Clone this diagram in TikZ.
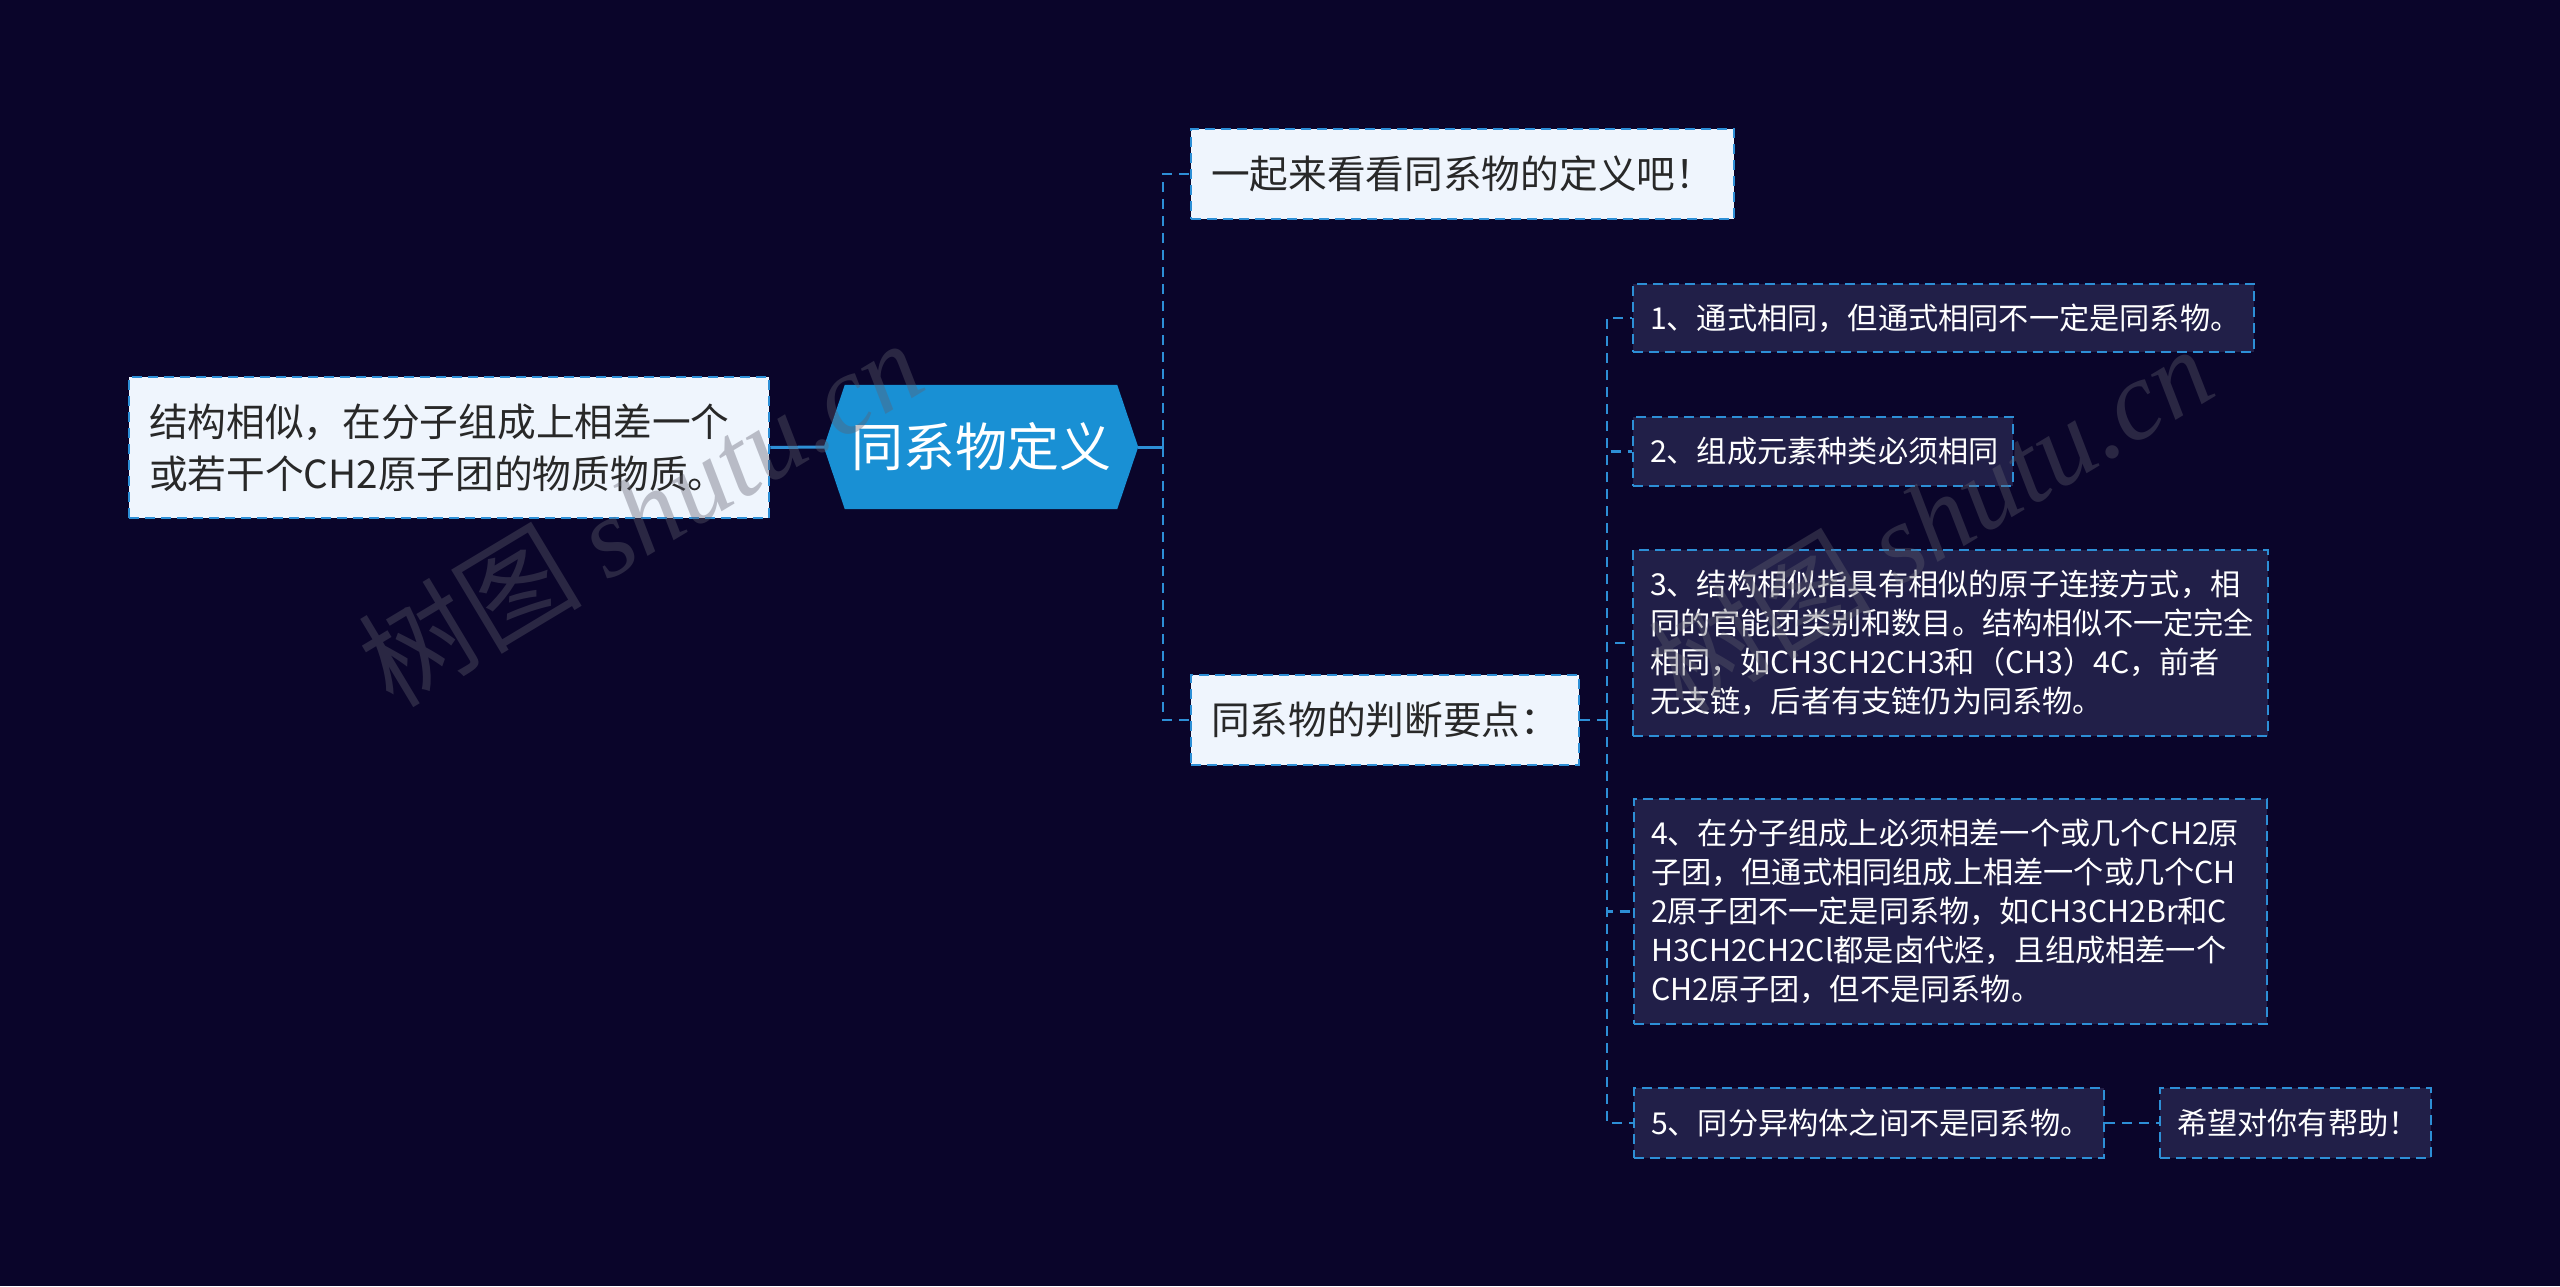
\documentclass[tikz,border=0pt]{standalone}
\usepackage{fontspec}
\setmainfont{Noto Sans CJK SC}
\newfontfamily\wmserif{Liberation Serif}
\definecolor{bgc}{RGB}{10,5,42}
\definecolor{lineblue}{RGB}{45,143,214}
\definecolor{hexfill}{RGB}{25,144,212}
\definecolor{lightfill}{RGB}{239,245,253}
\definecolor{darkfill}{RGB}{33,31,72}
\definecolor{textdark}{RGB}{40,40,40}
\definecolor{wmgray}{RGB}{95,95,110}
\tikzset{
  lbox/.style={draw=lineblue, fill=lightfill, line width=2.5pt, dash pattern=on 10pt off 6pt,
    text=textdark, font=\fontsize{38.7}{52}\selectfont, inner xsep=20pt, inner ysep=0pt, align=left},
  dbox/.style={draw=lineblue, fill=darkfill, line width=2.5pt, dash pattern=on 10pt off 6pt,
    text=white, font=\fontsize{30.2}{39}\selectfont, inner xsep=17pt, inner ysep=0pt, align=left},
  conn/.style={draw=lineblue, line width=2.5pt, dash pattern=on 10pt off 7pt},
  solidconn/.style={draw=lineblue, line width=3pt},
  wmark/.style={rotate=31, text=wmgray, opacity=0.38, font=\fontsize{112}{112}\selectfont}
}
\begin{document}
\begin{tikzpicture}[x=1pt,y=-1pt]
\useasboundingbox (0,0) rectangle (2560,1286);
\fill[bgc] (0,0) rectangle (2560,1286);

% left box
\node[lbox, text width=600pt, minimum height=141pt] (L) at (449,447.5)
  {结构相似，在分子组成上相差一个\\或若干个CH2原子团的物质物质。};

% central hexagon
\path node[minimum width=314pt, minimum height=124pt, inner sep=0pt] (H) at (981,447) {};
\fill[hexfill] (H.west) -- ([xshift=21pt]H.north west) -- ([xshift=-21pt]H.north east)
  -- (H.east) -- ([xshift=-21pt]H.south east) -- ([xshift=21pt]H.south west) -- cycle;
\node[text=white, font=\fontsize{52}{60}\selectfont, inner sep=0pt] (Ht) at (H.center) {同系物定义};

% first-level boxes
\node[lbox, text width=503pt, minimum height=90pt] (T) at (1462.5,174) {一起来看看同系物的定义吧！};
\node[lbox, text width=348pt, minimum height=90pt] (J) at (1385,720) {同系物的判断要点：};

% second-level boxes
\node[dbox, text width=587pt, minimum height=68pt] (D1) at (1943.5,318) {1、通式相同，但通式相同不一定是同系物。};
\node[dbox, text width=346pt, minimum height=69pt] (D2) at (1823,451.5) {2、组成元素种类必须相同};
\node[dbox, text width=601pt, minimum height=186pt] (D3) at (1950.5,643)
  {3、结构相似指具有相似的原子连接方式，相\\同的官能团类别和数目。结构相似不一定完全\\相同，如CH3CH2CH3和（CH3）4C，前者\\无支链，后者有支链仍为同系物。};
\node[dbox, text width=599pt, minimum height=225pt] (D4) at (1950.5,911.5)
  {4、在分子组成上必须相差一个或几个CH2原\\子团，但通式相同组成上相差一个或几个CH\\2原子团不一定是同系物，如CH3CH2Br和C\\H3CH2CH2Cl都是卤代烃，且组成相差一个\\CH2原子团，但不是同系物。};
\node[dbox, text width=436pt, minimum height=70pt] (D5) at (1869,1123) {5、同分异构体之间不是同系物。};
\node[dbox, text width=237pt, minimum height=70pt] (D6) at (2295.5,1123) {希望对你有帮助！};

% connectors
\draw[solidconn] (L.east) -- (H.west);
\coordinate (k1) at (1163,447);
\draw[solidconn] (H.east) -- (k1);
\draw[conn] (k1) |- (T.west);
\draw[conn] (k1) |- (J.west);
\coordinate (k2) at (1607,720);
\draw[conn] (J.east) -- (k2);
\draw[conn] (k2) |- (D1.west);
\draw[conn] (k2) |- (D2.west);
\draw[conn] (k2) |- (D3.west);
\draw[conn] (k2) |- (D4.west);
\draw[conn] (k2) |- (D5.west);
\draw[conn] (D5.east) -- (D6.west);

% watermarks
\node[wmark] (W1) at (640,512) {树图 {\wmserif\itshape shutu.cn}};
\node[wmark] (W2) at (1930,518) {树图 {\wmserif\itshape shutu.cn}};
\end{tikzpicture}
\end{document}
